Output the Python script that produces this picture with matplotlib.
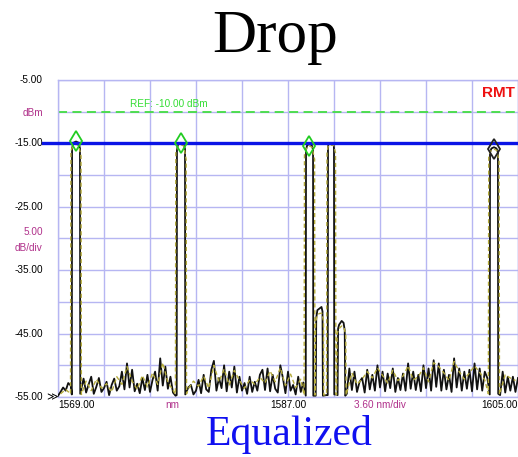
import numpy as np
import matplotlib.pyplot as plt
from matplotlib import transforms

# ---- data ----
x_lo, x_hi = 1569.0, 1605.0
y_lo, y_hi = -55.0, -5.0
ref_level = -10.0
eq_level = -15.0

# black trace: noise floor sampled every 0.2 nm (1569.0 ... 1605.0)
black_noise = [
    -54.8, -54.2, -53.5, -54.0, -52.8, -53.2, -55.0, -55.0, -55.0, -54.6,   # 1569.0
    -52.1, -54.3, -53.0, -51.8, -54.5, -53.4, -52.0, -54.2, -53.6, -52.6,   # 1571.0
    -54.7, -53.1, -52.1, -54.0, -53.3, -51.0, -53.8, -49.7, -53.5, -50.7,   # 1573.0
    -54.1, -52.9, -54.4, -52.0, -53.9, -51.5, -54.2, -52.3, -51.0, -54.0,   # 1575.0
    -48.9, -53.2, -50.2, -53.7, -51.8, -54.3, -54.8, -55.0, -55.0, -55.0,   # 1577.0
    -54.7, -53.5, -53.1, -54.6, -54.0, -52.3, -54.4, -51.5, -53.8, -54.2,   # 1579.0
    -50.7, -49.3, -54.0, -52.0, -53.6, -50.0, -54.1, -51.0, -53.5, -50.2,   # 1581.0
    -54.3, -51.8, -54.0, -52.8, -54.5, -51.8, -54.2, -52.6, -54.0, -51.5,   # 1583.0
    -50.7, -53.9, -50.5, -54.1, -51.5, -53.7, -54.3, -50.0, -52.0, -54.4,   # 1585.0
    -51.0, -54.0, -53.1, -54.6, -51.8, -54.2, -52.7, -55.0, -55.0, -55.0,   # 1587.0
    -54.8, -55.0, -55.0, -55.0, -54.9, -54.7, -55.0, -55.0, -55.0, -54.6,   # 1589.0
    -55.0, -55.0, -55.0, -54.5, -50.5, -53.9, -51.0, -54.2, -52.6, -52.0,   # 1591.0
    -54.3, -50.7, -53.8, -51.5, -54.0, -50.0, -53.5, -51.0, -54.1, -51.3,   # 1593.0
    -53.6, -50.5, -54.2, -52.0, -53.9, -51.3, -54.0, -49.7, -53.7, -51.0,   # 1595.0
    -53.9, -51.5, -54.1, -50.0, -53.6, -50.5, -54.0, -49.2, -53.4, -49.7,   # 1597.0
    -54.0, -50.7, -53.8, -51.5, -54.2, -48.9, -53.5, -50.5, -54.0, -51.0,   # 1599.0
    -53.7, -50.7, -54.1, -49.7, -53.8, -50.5, -54.0, -51.0, -52.0, -55.0,   # 1601.0
    -55.0, -55.0, -55.0, -54.7, -51.0, -54.3, -51.8, -54.0, -51.8, -54.2,   # 1603.0
    -52.0,                                                                  # 1605.0
]

# yellow (dashed) trace: noise floor sampled every 0.4 nm (1569.2 ... 1604.8)
yellow_noise = [
    -54.5, -53.8, -53.0, -55.0, -53.5, -52.5, -54.0, -52.2, -53.6, -52.9,
    -54.2, -51.8, -53.0, -50.2, -52.5, -53.8, -51.6, -53.4, -51.2, -53.0,
    -49.6, -52.7, -53.9, -55.0, -55.0, -53.7, -52.5, -53.3, -51.7, -53.6,
    -50.0, -52.6, -50.6, -53.1, -50.8, -52.4, -53.6, -52.3, -53.0, -51.9,
    -52.8, -50.9, -52.6, -50.4, -53.2, -51.4, -53.5, -52.2, -55.0, -55.0,
    -55.0, -55.0, -54.8, -55.0, -55.0, -55.0, -53.9, -51.2, -53.0, -52.2,
    -51.0, -52.0, -50.4, -51.6, -52.8, -50.8, -52.4, -51.7, -50.1, -52.3,
    -51.8, -50.4, -52.6, -49.6, -50.2, -51.2, -52.4, -49.4, -51.0, -52.2,
    -51.2, -50.1, -51.1, -52.3, -55.0, -55.0, -53.5, -51.5, -52.0, -52.4,
]

# channel peaks (wavelength, level) for each trace
black_peaks = [
    ([1570.08, 1570.10, 1570.20, 1570.41, 1570.62, 1570.72, 1570.74],
     [-54.6, -15.8, -14.9, -14.7, -14.9, -15.8, -54.5]),
    ([1578.29, 1578.31, 1578.42, 1578.62, 1578.83, 1578.94, 1578.96],
     [-54.7, -15.9, -15.1, -14.9, -15.1, -15.9, -54.6]),
    ([1588.39, 1588.41, 1588.50, 1588.67, 1588.86, 1588.96, 1588.98],
     [-54.8, -16.0, -15.3, -15.1, -15.3, -16.0, -54.8]),
    ([1589.17, 1589.21, 1589.30, 1589.50, 1589.62, 1589.70, 1589.73],
     [-54.8, -42.5, -41.3, -41.0, -40.8, -41.5, -54.8]),
    ([1590.11, 1590.13, 1590.16, 1590.58, 1590.60, 1590.62],
     [-54.7, -16.0, -15.0, -15.0, -16.0, -54.6]),
    ([1590.88, 1590.92, 1591.00, 1591.20, 1591.35, 1591.44, 1591.48],
     [-54.7, -44.2, -43.6, -43.0, -43.3, -44.5, -54.8]),
    ([1602.79, 1602.81, 1602.92, 1603.12, 1603.32, 1603.43, 1603.45],
     [-54.6, -16.4, -15.8, -15.6, -15.8, -16.4, -54.5]),
]
yellow_peaks = [
    ([1569.98, 1570.01, 1570.20, 1570.41, 1570.62, 1570.80, 1570.83],
     [-54.5, -16.2, -15.3, -15.1, -15.4, -17.0, -54.6]),
    ([1578.19, 1578.22, 1578.40, 1578.62, 1578.84, 1579.03, 1579.06],
     [-54.6, -16.5, -15.4, -15.2, -15.4, -17.5, -54.5]),
    ([1588.26, 1588.29, 1588.48, 1588.67, 1588.88, 1589.08, 1589.11],
     [-54.7, -16.8, -15.6, -15.4, -15.6, -17.5, -54.7]),
    ([1589.12, 1589.15, 1589.30, 1589.50, 1589.65, 1589.78, 1589.80],
     [-54.7, -43.5, -42.0, -41.8, -41.8, -43.0, -54.7]),
    ([1590.02, 1590.05, 1590.16, 1590.58, 1590.72, 1590.75],
     [-54.6, -16.5, -15.3, -15.3, -16.5, -54.6]),
    ([1590.80, 1590.84, 1591.00, 1591.20, 1591.38, 1591.52, 1591.55],
     [-54.6, -45.0, -44.2, -43.8, -44.0, -45.2, -54.7]),
    ([1602.68, 1602.71, 1602.90, 1603.12, 1603.34, 1603.52, 1603.55],
     [-54.5, -17.0, -16.1, -15.9, -16.1, -17.8, -54.6]),
]

# peak markers
green_mark_wl = [1570.41, 1578.62, 1588.66]
green_mark_db = [-14.6, -15.0, -15.4]
black_mark_wl = [1603.12]
black_mark_db = [-15.9]

y_label_vals = [-5, -15, -25, -35, -45, -55]
x_label_vals = [1569.0, 1587.0, 1605.0]


def build_trace(noise, start, step, peaks, margin=0.08):
    wl = start + step * np.arange(len(noise))
    db = np.array(noise, dtype=float)
    keep = np.ones(len(wl), dtype=bool)
    for pw, _ in peaks:
        keep &= ~((wl > min(pw) - margin) & (wl < max(pw) + margin))
    all_wl = np.concatenate([wl[keep]] + [np.array(p[0]) for p in peaks])
    all_db = np.concatenate([db[keep]] + [np.array(p[1]) for p in peaks])
    order = np.argsort(all_wl)
    return all_wl[order], all_db[order]


bw, bd = build_trace(black_noise, 1569.0, 0.2, black_peaks)
yw, yd = build_trace(yellow_noise, 1569.2, 0.4, yellow_peaks)

fig = plt.figure(figsize=(5.18, 4.57), dpi=100)
ax = fig.add_axes([58 / 518, 1 - 397 / 457, 460 / 518, 317 / 457])

grid_col = '#b6b6f2'
magenta = '#b0308a'
ax.set_xlim(x_lo, x_hi)
ax.set_ylim(y_lo, y_hi)
ax.set_xticks(np.linspace(x_lo, x_hi, 11))
ax.set_yticks(np.arange(y_lo, y_hi + 1, 5))
ax.tick_params(length=0, labelleft=False, labelbottom=False)
ax.grid(True, color=grid_col, lw=1.0, zorder=0)
for s in ax.spines.values():
    s.set_color(grid_col)
    s.set_linewidth(1.0)

ax.axhline(ref_level, color='#44dd44', lw=1.3, ls=(0, (5, 3)), zorder=2)
ax.plot(bw, bd, color='#111111', lw=1.3, zorder=3)
ax.plot(yw, yd, color='#b5ab3c', lw=1.0, ls=(0, (3, 2)), zorder=4)
ax.axhline(eq_level, xmin=-0.033, xmax=1.0, color='#0a14e6', lw=2.4,
           zorder=5, clip_on=False)
ax.plot(green_mark_wl, green_mark_db, ls='none', marker='d', ms=10,
        mfc='none', mec='#22cc22', mew=1.3, zorder=6)
ax.plot(black_mark_wl, black_mark_db, ls='none', marker='d', ms=10,
        mfc='none', mec='#222222', mew=1.3, zorder=6)

lab = dict(fontsize=7.2, family='Liberation Sans')
ytr = transforms.blended_transform_factory(ax.transAxes, ax.transData)
for v in y_label_vals:
    ax.text(-0.033, v, f'{v:.2f}', ha='right', va='center', transform=ytr, **lab)
ax.text(-0.033, -10.2, 'dBm', ha='right', va='center', color=magenta, transform=ytr, **lab)
ax.text(-0.033, -29.0, '5.00', ha='right', va='center', color=magenta, transform=ytr, **lab)
ax.text(-0.033, -31.5, 'dB/div', ha='right', va='center', color=magenta, transform=ytr, **lab)
ax.text(-0.013, y_lo, '\u226b', ha='center', va='center', transform=ytr,
        fontsize=8, family='DejaVu Sans')

xtr = transforms.blended_transform_factory(ax.transData, ax.transAxes)
ax.text(x_label_vals[0], -0.01, f'{x_label_vals[0]:.2f}', ha='left', va='top', transform=xtr, **lab)
ax.text(x_label_vals[1], -0.01, f'{x_label_vals[1]:.2f}', ha='center', va='top', transform=xtr, **lab)
ax.text(x_label_vals[2], -0.01, f'{x_label_vals[2]:.2f}', ha='right', va='top', transform=xtr, **lab)
ax.text(0.248, -0.01, 'nm', ha='center', va='top', color=magenta, transform=ax.transAxes, **lab)
ax.text(0.70, -0.01, '3.60 nm/div', ha='center', va='top', color=magenta, transform=ax.transAxes, **lab)

ax.text(0.157, -8.8, 'REF: -10.00 dBm', ha='left', va='center', color='#33dd33',
        transform=ytr, **lab)
ax.text(0.993, -7.0, 'RMT', ha='right', va='center', color='#ee1111',
        fontsize=11, fontweight='bold', family='Liberation Sans', transform=ytr)

fig.text(0.531, 1 - 52 / 457, 'Drop', ha='center', va='baseline',
         fontsize=44, family='Liberation Serif')
fig.text(0.558, 1 - 445 / 457, 'Equalized', ha='center', va='baseline',
         fontsize=30, family='Liberation Serif', color='#1010f0')

fig.savefig('out.png', dpi=100)
